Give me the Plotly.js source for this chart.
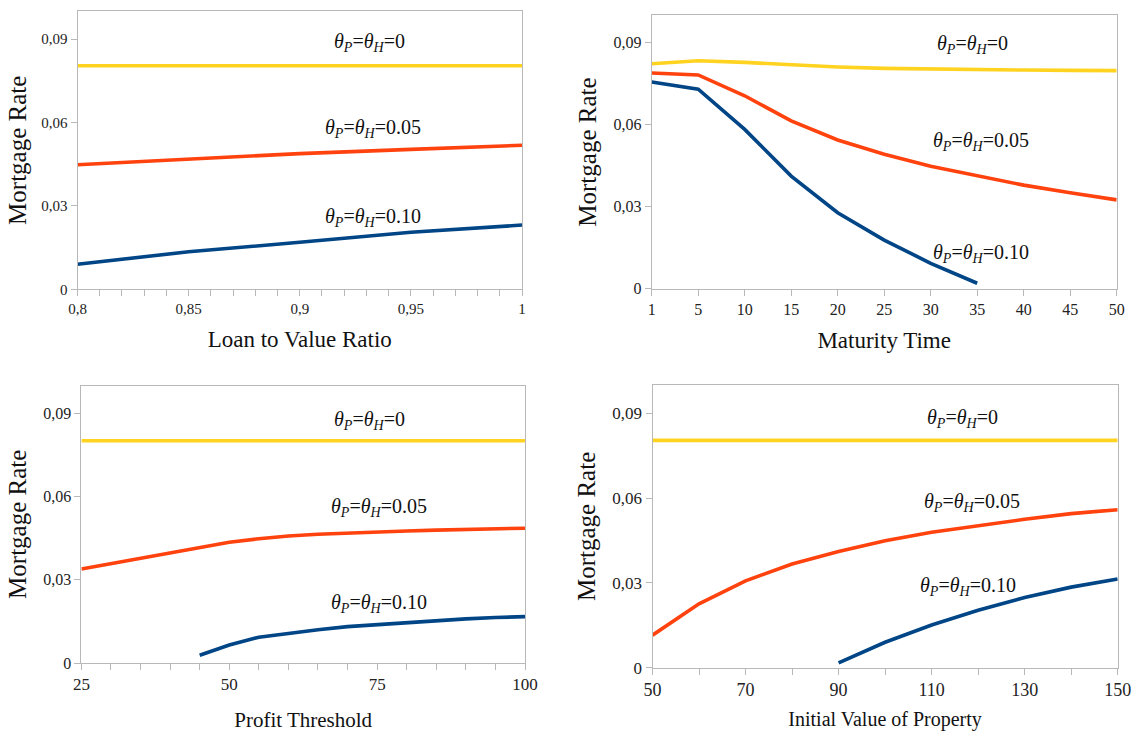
<!DOCTYPE html>
<html>
<head>
<meta charset="utf-8">
<script src="https://cdn.plot.ly/plotly-3.0.1.min.js"></script>
<style>
  html, body { margin: 0; padding: 0; background: #ffffff; }
  #chart { width: 1137px; height: 736px; }
</style>
</head>
<body>
<div id="chart"></div>
<script>
// ---------- DATA ----------
// Panel 1: Loan to Value Ratio
const ltvX = [0.8, 0.85, 0.9, 0.95, 1.0];
const ltvTheta0 = [0.0804, 0.0804, 0.0804, 0.0804, 0.0804];
const ltvTheta05 = [0.0448, 0.0469, 0.0488, 0.0503, 0.0518];
const ltvTheta10 = [0.0090, 0.0135, 0.0169, 0.0205, 0.0231];
const ltvTickVals = [0.8, 0.85, 0.9, 0.95, 1.0];
const ltvTickText = ["0,8", "0,85", "0,9", "0,95", "1"];

// Panel 2: Maturity Time (categorical)
const matX = ["1", "5", "10", "15", "20", "25", "30", "35", "40", "45", "50"];
const matTheta0 = [0.0823, 0.0834, 0.0828, 0.0818, 0.0811, 0.0806, 0.0803, 0.0801, 0.0800, 0.0799, 0.0798];
const matTheta05 = [0.0789, 0.0782, 0.0706, 0.0614, 0.0544, 0.0492, 0.0448, 0.0413, 0.0379, 0.0351, 0.0325];
const matX10 = ["1", "5", "10", "15", "20", "25", "30", "35"];
const matTheta10 = [0.0756, 0.0730, 0.0583, 0.0412, 0.0278, 0.0178, 0.0093, 0.0020];

// Panel 3: Profit Threshold
const ptX = [25, 30, 35, 40, 45, 50, 55, 60, 65, 70, 75, 80, 85, 90, 95, 100];
const ptTheta0 = [0.0801, 0.0801, 0.0801, 0.0801, 0.0801, 0.0801, 0.0801, 0.0801, 0.0801, 0.0801, 0.0801, 0.0801, 0.0801, 0.0801, 0.0801, 0.0801];
const ptTheta05 = [0.0339, 0.0358, 0.0377, 0.0397, 0.0417, 0.0435, 0.0448, 0.0458, 0.0464, 0.0469, 0.0473, 0.0476, 0.0479, 0.0482, 0.0484, 0.0486];
const ptX10 = [45, 50, 55, 60, 65, 70, 75, 80, 85, 90, 95, 100];
const ptTheta10 = [0.0028, 0.0065, 0.0093, 0.0108, 0.0120, 0.0131, 0.0138, 0.0147, 0.0153, 0.0159, 0.0164, 0.0167];
const ptTickVals = [25, 50, 75, 100];
const ptTickText = ["25", "50", "75", "100"];

// Panel 4: Initial Value of Property
const ivX = [50, 60, 70, 80, 90, 100, 110, 120, 130, 140, 150];
const ivTheta0 = [0.0804, 0.0804, 0.0804, 0.0804, 0.0804, 0.0804, 0.0804, 0.0804, 0.0804, 0.0804, 0.0804];
const ivTheta05 = [0.0115, 0.0226, 0.0307, 0.0367, 0.0411, 0.0449, 0.0479, 0.0503, 0.0525, 0.0545, 0.0559];
const ivX10 = [90, 100, 110, 120, 130, 140, 150];
const ivTheta10 = [0.0017, 0.0090, 0.0151, 0.0203, 0.0248, 0.0285, 0.0314];
const ivTickVals = [50, 70, 90, 110, 130, 150];
const ivTickText = ["50", "70", "90", "110", "130", "150"];

// Shared y axis ticks
const yTickVals = [0, 0.03, 0.06, 0.09];
const yTickText = ["0", "0,03", "0,06", "0,09"];

// Series labels
const label0 = "<i>θ</i><sub><i>P</i></sub>=<i>θ</i><sub><i>H</i></sub>=0";
const label05 = "<i>θ</i><sub><i>P</i></sub>=<i>θ</i><sub><i>H</i></sub>=0.05";
const label10 = "<i>θ</i><sub><i>P</i></sub>=<i>θ</i><sub><i>H</i></sub>=0.10";

// ---------- STYLE ----------
const YELLOW = "#FFD320", ORANGE = "#FF420E", BLUE = "#004586";
const FONT = "Liberation Serif";
const LW = 3.6;

function line(x, y, color, xa, ya) {
  return { x: x, y: y, xaxis: xa, yaxis: ya, type: "scatter", mode: "lines",
           line: { color: color, width: LW }, hoverinfo: "skip", showlegend: false };
}

const traces = [
  line(ltvX, ltvTheta0, YELLOW, "x", "y"),
  line(ltvX, ltvTheta05, ORANGE, "x", "y"),
  line(ltvX, ltvTheta10, BLUE, "x", "y"),
  line(matX, matTheta0, YELLOW, "x2", "y2"),
  line(matX, matTheta05, ORANGE, "x2", "y2"),
  line(matX10, matTheta10, BLUE, "x2", "y2"),
  line(ptX, ptTheta0, YELLOW, "x3", "y3"),
  line(ptX, ptTheta05, ORANGE, "x3", "y3"),
  line(ptX10, ptTheta10, BLUE, "x3", "y3"),
  line(ivX, ivTheta0, YELLOW, "x4", "y4"),
  line(ivX, ivTheta05, ORANGE, "x4", "y4"),
  line(ivX10, ivTheta10, BLUE, "x4", "y4")
];

const AX = { showline: true, linecolor: "#b8b8b8", linewidth: 1, mirror: true,
             ticks: "outside", ticklen: 6, tickcolor: "#b8b8b8", tickwidth: 1,
             showgrid: false, zeroline: false, fixedrange: true };

function yaxis(domain, anchor, tickSize, standoff) {
  return Object.assign({}, AX, {
    domain: domain, anchor: anchor, range: [0, 0.1],
    tickmode: "array", tickvals: yTickVals, ticktext: yTickText,
    tickfont: { family: FONT, size: tickSize, color: "#222" },
    title: { text: "Mortgage Rate", font: { family: FONT, size: 25, color: "#111" }, standoff: standoff }
  });
}

const layout = {
  width: 1137, height: 736,
  margin: { l: 0, r: 0, t: 0, b: 0 },
  paper_bgcolor: "#ffffff", plot_bgcolor: "#ffffff",
  font: { family: FONT, color: "#222" },
  showlegend: false,
  xaxis: Object.assign({}, AX, {
    domain: [77.5 / 1137, 522 / 1137], anchor: "y", range: [0.8, 1.0],
    tickmode: "array", tickvals: ltvTickVals, ticktext: ltvTickText,
    tickfont: { family: FONT, size: 15, color: "#222" },
    minor: { ticks: "outside", dtick: 0.01, ticklen: 6, tickcolor: "#b8b8b8", showgrid: false },
    title: { text: "Loan to Value Ratio", font: { family: FONT, size: 23, color: "#111" }, standoff: 14 }
  }),
  yaxis: yaxis([1 - 289.3 / 736, 1 - 11.2 / 736], "x", 15, 7),
  xaxis2: Object.assign({}, AX, {
    domain: [651.7 / 1137, 1116.7 / 1137], anchor: "y2", type: "category", range: [0, 10],
    tickfont: { family: FONT, size: 16, color: "#222" },
    title: { text: "Maturity Time", font: { family: FONT, size: 23, color: "#111" }, standoff: 14 }
  }),
  yaxis2: yaxis([1 - 288.7 / 736, 1 - 15.4 / 736], "x2", 16, 9),
  xaxis3: Object.assign({}, AX, {
    domain: [81.4 / 1137, 525 / 1137], anchor: "y3", range: [25, 100],
    tickmode: "array", tickvals: ptTickVals, ticktext: ptTickText,
    tickfont: { family: FONT, size: 17, color: "#222" },
    minor: { ticks: "outside", dtick: 5, ticklen: 6, tickcolor: "#b8b8b8", showgrid: false },
    title: { text: "Profit Threshold", font: { family: FONT, size: 21, color: "#111" }, standoff: 18 }
  }),
  yaxis3: yaxis([1 - 663 / 736, 1 - 385.6 / 736], "x3", 16, 9),
  xaxis4: Object.assign({}, AX, {
    domain: [652.5 / 1137, 1117.7 / 1137], anchor: "y4", range: [50, 150],
    tickmode: "array", tickvals: ivTickVals, ticktext: ivTickText,
    tickfont: { family: FONT, size: 18, color: "#222" },
    minor: { ticks: "outside", dtick: 10, ticklen: 6, tickcolor: "#b8b8b8", showgrid: false },
    title: { text: "Initial Value of Property", font: { family: FONT, size: 20, color: "#111" }, standoff: 12 }
  }),
  yaxis4: yaxis([1 - 667.7 / 736, 1 - 385 / 736], "x4", 17, 9),
  annotations: []
};

function ann(xref, yref, xd, y, text) {
  return { xref: xref, yref: yref, x: xd, y: y, text: text, showarrow: false,
           xanchor: "center", yanchor: "middle",
           font: { family: FONT, size: 20, color: "#111" } };
}
layout.annotations.push(
  ann("x domain", "y", 0.656, 0.0886, label0),
  ann("x domain", "y", 0.665, 0.0578, label05),
  ann("x domain", "y", 0.665, 0.0258, label10),
  ann("x2 domain", "y2", 0.690, 0.0894, label0),
  ann("x2 domain", "y2", 0.708, 0.0540, label05),
  ann("x2 domain", "y2", 0.708, 0.0130, label10),
  ann("x3 domain", "y3", 0.650, 0.0874, label0),
  ann("x3 domain", "y3", 0.670, 0.0559, label05),
  ann("x3 domain", "y3", 0.670, 0.0216, label10),
  ann("x4 domain", "y4", 0.667, 0.0880, label0),
  ann("x4 domain", "y4", 0.686, 0.0585, label05),
  ann("x4 domain", "y4", 0.678, 0.0288, label10)
);

Plotly.newPlot("chart", traces, layout, { displayModeBar: false, staticPlot: true });
</script>
</body>
</html>
